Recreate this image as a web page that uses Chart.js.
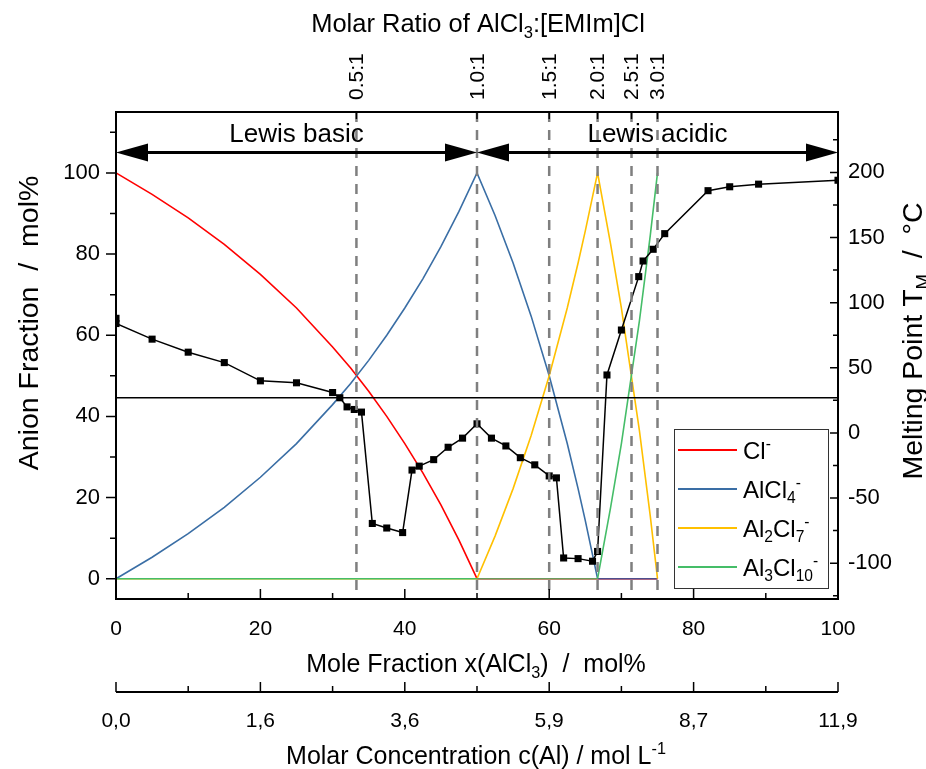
<!DOCTYPE html>
<html>
<head>
<meta charset="utf-8">
<script src="https://cdn.jsdelivr.net/npm/chart.js@4.4.0/dist/chart.umd.min.js"></script>
<style>
  html, body { margin: 0; padding: 0; background: #fff; }
  #wrap { width: 926px; height: 769px; position: relative; }
</style>
</head>
<body>
<div id="wrap"><canvas id="chart"></canvas></div>
<script>
// Anion fractions (mol%) vs mole fraction x(AlCl3)
const clX = [0, 5, 10, 15, 20, 25, 30, 32.5, 35, 37.5, 40, 42.5, 45, 47.5, 50, 75];
const clY = [100, 94.7, 88.9, 82.4, 75, 66.7, 57.1, 51.9, 46.2, 40, 33.3, 26.1, 18.2, 9.5, 0, 0];

const alcl4X = [0, 5, 10, 15, 20, 25, 30, 32.5, 35, 37.5, 40, 42.5, 45, 47.5, 50, 52.5, 55, 57.5, 60, 62.5, 64, 65, 66.7, 75];
const alcl4Y = [0, 5.3, 11.1, 17.6, 25, 33.3, 42.9, 48.1, 53.8, 60, 66.7, 73.9, 81.8, 90.5, 100, 89.5, 77.8, 64.7, 50, 33.3, 22.2, 14.3, 0, 0];

const al2cl7X = [0, 50, 52.5, 55, 57.5, 60, 62.5, 64, 65, 66.7, 68.5, 70, 72.5, 74, 75];
const al2cl7Y = [0, 0, 10.5, 22.2, 35.3, 50, 66.7, 77.8, 85.7, 100, 82.5, 66.7, 36.4, 15.4, 0];

const al3cl10X = [0, 50, 66.7, 68.5, 70, 72.5, 74, 75];
const al3cl10Y = [0, 0, 0, 17.5, 33.3, 63.6, 84.6, 100];

// Melting point (°C) vs mole fraction
const meltX = [0, 0, 5, 10, 15, 20, 25, 30, 31, 32, 33, 34, 35.5, 37.5, 39.7, 41, 42, 44, 46, 48, 50, 52, 54, 56, 58, 60, 61, 62, 64, 66, 66.7, 68, 70, 72.4, 73, 74.4, 76, 82, 85, 89, 100];
const meltT = [88, 84, 72, 62, 54, 40, 38.5, 31, 27, 20, 18, 16, -69.5, -73, -76.5, -28.5, -25.5, -20.5, -11, -4, 7, -4, -10, -19, -24.5, -33, -34.5, -96, -96.5, -98.5, -91, 44.5, 79, 120, 132, 141, 153, 186, 189, 191, 194];

// room temperature reference line
const roomX = [0, 100];
const roomT = [27, 27];

// axis ticks
const fracTicks = [0, 20, 40, 60, 80, 100];
const meltTicks = [-100, -50, 0, 50, 100, 150, 200];

// top axis: molar ratios
const ratioX = [33.3, 50, 60, 66.7, 71.4, 75];
const ratioLabels = ['0.5:1', '1.0:1', '1.5:1', '2.0:1', '2.5:1', '3.0:1'];

// second bottom axis: molar concentration
const concX = [0, 20, 40, 60, 80, 100];
const concLabels = ['0,0', '1,6', '3,6', '5,9', '8,7', '11,9'];

const FONT = '"Liberation Sans", Arial, sans-serif';
const pts = (xs, ys) => xs.map((x, i) => ({ x: x, y: ys[i] }));

// text with sub (1) / superscript (2) parts, y = middle of cap height
function drawRich(ctx, parts, x, y, size, o) {
    o = o || {};
    ctx.save();
    ctx.translate(x, y);
    if (o.rot) ctx.rotate(o.rot);
    ctx.fillStyle = '#000';
    ctx.textBaseline = 'alphabetic';
    ctx.textAlign = 'left';
    let w = 0;
    const segs = parts.map(p => {
        const fs = p[1] ? size * 0.65 : size;
        ctx.font = fs + 'px ' + FONT;
        const tw = ctx.measureText(p[0]).width;
        w += tw;
        return { t: p[0], m: p[1], fs: fs, w: tw };
    });
    let cx = o.align === 'left' ? 0 : (o.align === 'right' ? -w : -w / 2);
    const base = size * 0.36;
    segs.forEach(s => {
        ctx.font = s.fs + 'px ' + FONT;
        const dy = s.m === 1 ? size * 0.24 : (s.m === 2 ? -size * 0.42 : 0);
        ctx.fillText(s.t, cx, base + dy);
        cx += s.w;
    });
    ctx.restore();
}

function arrowHead(ctx, x, y, dir) {
    ctx.beginPath();
    ctx.moveTo(x, y);
    ctx.lineTo(x - dir * 32, y - 9);
    ctx.lineTo(x - dir * 32, y + 9);
    ctx.closePath();
    ctx.fill();
}

const decorPlugin = {
    id: 'decor',
    afterDatasetsDraw(chart) {
        const ctx = chart.ctx;
        const xs = chart.scales.x, ys = chart.scales.y;
        const a = chart.chartArea;
        ctx.save();
        // dashed ratio lines
        ctx.strokeStyle = '#7f7f7f';
        ctx.lineWidth = 2.5;
        ctx.setLineDash([10, 8]);
        ratioX.forEach(v => {
            const px = xs.getPixelForValue(v);
            ctx.beginPath();
            ctx.moveTo(px, a.top);
            ctx.lineTo(px, a.bottom);
            ctx.stroke();
        });
        ctx.setLineDash([]);

        // Lewis arrows
        ctx.strokeStyle = '#000';
        ctx.fillStyle = '#000';
        ctx.lineWidth = 3;
        const ay = ys.getPixelForValue(105);
        [[0, 50], [50, 100]].forEach(r => {
            const x0 = xs.getPixelForValue(r[0]), x1 = xs.getPixelForValue(r[1]);
            ctx.beginPath();
            ctx.moveTo(x0 + 20, ay);
            ctx.lineTo(x1 - 20, ay);
            ctx.stroke();
            arrowHead(ctx, x0, ay, -1);
            arrowHead(ctx, x1, ay, 1);
        });
        ctx.restore();
    },
    afterDraw(chart) {
        const ctx = chart.ctx;
        const xs = chart.scales.x, ys = chart.scales.y, y2 = chart.scales.y2;
        const a = chart.chartArea;
        ctx.save();
        ctx.strokeStyle = '#000';
        ctx.lineWidth = 2;
        ctx.strokeRect(a.left, a.top, a.right - a.left, a.bottom - a.top);

        ctx.lineWidth = 1.5;
        ctx.beginPath();
        // left ticks (outward)
        for (let v = 0; v <= 110; v += 10) {
            const py = ys.getPixelForValue(v);
            ctx.moveTo(a.left, py);
            ctx.lineTo(a.left - (v % 20 === 0 ? 10 : 6), py);
        }
        // right ticks (inward)
        for (let v = -125; v <= 225; v += 25) {
            const py = y2.getPixelForValue(v);
            ctx.moveTo(a.right, py);
            ctx.lineTo(a.right - (v % 50 === 0 ? 8 : 5), py);
        }
        // bottom ticks (inward)
        for (let v = 0; v <= 100; v += 10) {
            const px = xs.getPixelForValue(v);
            ctx.moveTo(px, a.bottom);
            ctx.lineTo(px, a.bottom - (v % 20 === 0 ? 10 : 6));
        }
        // top ticks
        ratioX.forEach(v => {
            const px = xs.getPixelForValue(v);
            ctx.moveTo(px, a.top);
            ctx.lineTo(px, a.top + 7);
        });
        ctx.stroke();

        // second bottom axis (molar concentration)
        const cy = 692;
        ctx.lineWidth = 2;
        ctx.beginPath();
        ctx.moveTo(a.left, cy);
        ctx.lineTo(a.right, cy);
        ctx.stroke();
        ctx.lineWidth = 1.5;
        ctx.beginPath();
        for (let v = 0; v <= 100; v += 10) {
            const px = xs.getPixelForValue(v);
            ctx.moveTo(px, cy);
            ctx.lineTo(px, cy - (v % 20 === 0 ? 10 : 6));
        }
        ctx.stroke();

        // bottom tick labels
        fracTicks.forEach(v => {
            drawRich(ctx, [[String(v), 0]], xs.getPixelForValue(v), 627, 21);
        });
        concX.forEach((v, i) => {
            drawRich(ctx, [[concLabels[i], 0]], xs.getPixelForValue(v), 719, 21);
        });

        // top ratio labels (rotated)
        ratioX.forEach((v, i) => {
            drawRich(ctx, [[ratioLabels[i], 0]], xs.getPixelForValue(v) - 1, 100, 21, { rot: -Math.PI / 2, align: 'left' });
        });

        // titles
        drawRich(ctx, [['Molar Ratio of AlCl', 0], ['3', 1], [':[EMIm]Cl', 0]], 478, 23, 25.5);
        drawRich(ctx, [['Mole Fraction x(AlCl', 0], ['3', 1], [')  /  mol%', 0]], 476, 663, 25);
        drawRich(ctx, [['Molar Concentration c(Al) / mol L', 0], ['-1', 2]], 476, 755, 25);
        drawRich(ctx, [['Anion Fraction  /  mol%', 0]], 28, 323, 28.5, { rot: -Math.PI / 2 });
        drawRich(ctx, [['Melting Point T', 0], ['M', 1], ['  /  °C', 0]], 912, 341, 28.5, { rot: -Math.PI / 2 });

        // Lewis labels
        drawRich(ctx, [['Lewis basic', 0]], xs.getPixelForValue(25), ys.getPixelForValue(110), 26);
        drawRich(ctx, [['Lewis acidic', 0]], xs.getPixelForValue(75), ys.getPixelForValue(110), 26);

        // legend
        const lx = 674, ly = 429, lw = 154, lh = 159;
        ctx.fillStyle = '#fff';
        ctx.fillRect(lx, ly, lw, lh);
        ctx.strokeStyle = '#333';
        ctx.lineWidth = 1;
        ctx.strokeRect(lx + 0.5, ly + 0.5, lw, lh);
        const entries = [
            [chart.data.datasets[5].borderColor, [['Cl', 0], ['-', 2]]],
            [chart.data.datasets[4].borderColor, [['AlCl', 0], ['4', 1], ['-', 2]]],
            [chart.data.datasets[3].borderColor, [['Al', 0], ['2', 1], ['Cl', 0], ['7', 1], ['-', 2]]],
            [chart.data.datasets[2].borderColor, [['Al', 0], ['3', 1], ['Cl', 0], ['10', 1], ['-', 2]]]
        ];
        entries.forEach((e, i) => {
            const ey = ly + 21 + i * 39;
            ctx.strokeStyle = e[0];
            ctx.lineWidth = 2;
            ctx.beginPath();
            ctx.moveTo(lx + 4, ey);
            ctx.lineTo(lx + 63, ey);
            ctx.stroke();
            drawRich(ctx, e[1], lx + 69, ey, 24, { align: 'left' });
        });
        ctx.restore();
    }
};

const zeroSeg = (color) => ({
    borderColor: c => (c.p0.parsed.y === 0 && c.p1.parsed.y === 0 && c.p0.parsed.x >= 50) ? color : undefined
});

new Chart(document.getElementById('chart'), {
    type: 'line',
    data: {
        datasets: [{
            label: 'Melting point',
            data: pts(meltX, meltT),
            yAxisID: 'y2',
            borderColor: '#000',
            backgroundColor: '#000',
            borderWidth: 1.5,
            pointStyle: 'rect',
            pointRadius: 5,
            pointBorderWidth: 0
        }, {
            label: 'RT',
            data: pts(roomX, roomT),
            yAxisID: 'y2',
            borderColor: '#000',
            borderWidth: 1.5,
            pointRadius: 0
        }, {
            label: 'Al3Cl10-',
            data: pts(al3cl10X, al3cl10Y),
            borderColor: '#45bd68',
            borderWidth: 1.6,
            pointRadius: 0,
            segment: zeroSeg('#6a9c5e')
        }, {
            label: 'Al2Cl7-',
            data: pts(al2cl7X, al2cl7Y),
            borderColor: '#ffc000',
            borderWidth: 1.6,
            pointRadius: 0
        }, {
            label: 'AlCl4-',
            data: pts(alcl4X, alcl4Y),
            borderColor: '#3a6ea5',
            borderWidth: 1.6,
            pointRadius: 0,
            segment: zeroSeg('#4e4f8e')
        }, {
            label: 'Cl-',
            data: pts(clX, clY),
            borderColor: '#ff0000',
            borderWidth: 1.6,
            pointRadius: 0
        }]
    },
    options: {
        responsive: true,
        maintainAspectRatio: false,
        animation: false,
        layout: { padding: { top: 112, left: 0, right: 0, bottom: 0 } },
        plugins: { legend: { display: false }, tooltip: { enabled: false } },
        scales: {
            x: {
                type: 'linear',
                min: 0, max: 100,
                grid: { display: false, drawTicks: false },
                border: { display: false },
                ticks: { display: false },
                afterFit: s => { s.height = 170; }
            },
            y: {
                min: -5, max: 115,
                grid: { display: false, drawTicks: false },
                border: { display: false },
                ticks: { padding: 16, color: '#000', font: { family: FONT, size: 22 } },
                afterBuildTicks: s => { s.ticks = fracTicks.map(v => ({ value: v })); },
                afterFit: s => { s.width = 116; }
            },
            y2: {
                position: 'right',
                min: -127.5, max: 246.4,
                grid: { display: false, drawTicks: false },
                border: { display: false },
                ticks: { padding: 10, color: '#000', font: { family: FONT, size: 22 } },
                afterBuildTicks: s => { s.ticks = meltTicks.map(v => ({ value: v })); },
                afterFit: s => { s.width = 88; }
            }
        }
    },
    plugins: [decorPlugin]
});
</script>
</body>
</html>
